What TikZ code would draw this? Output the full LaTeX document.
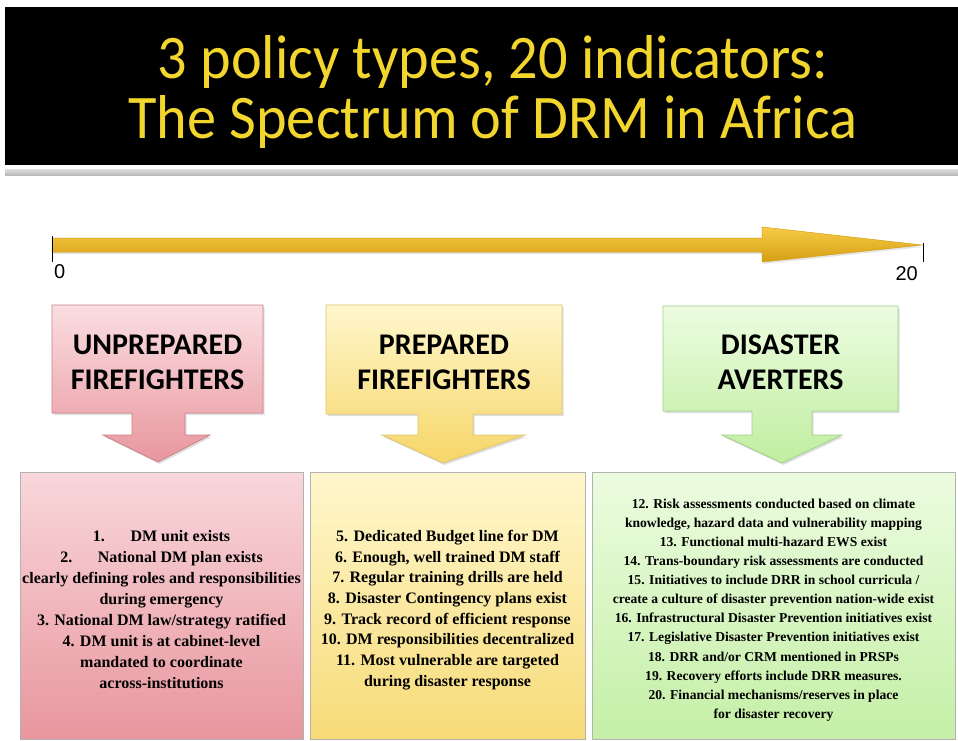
\documentclass[tikz,border=0pt]{standalone}
\usepackage{fontspec}
\setmainfont{Liberation Serif}
\newfontfamily\titlefont{Carlito}
\newfontfamily\bannerfont[FakeStretch=0.94]{Carlito}
\newfontfamily\numfont{Liberation Sans}
\usetikzlibrary{positioning, shadows}

\definecolor{titleyellow}{RGB}{242,214,46}
\definecolor{goldtop}{RGB}{246,204,70}
\definecolor{goldbot}{RGB}{214,158,20}
\definecolor{redtop}{RGB}{250,222,225}
\definecolor{redbot}{RGB}{232,150,158}
\definecolor{redline}{RGB}{200,130,135}
\definecolor{yeltop}{RGB}{255,247,205}
\definecolor{yelbot}{RGB}{246,214,104}
\definecolor{yelline}{RGB}{222,196,112}
\definecolor{grntop}{RGB}{236,252,224}
\definecolor{grnbot}{RGB}{192,238,160}
\definecolor{grnline}{RGB}{160,208,140}

\begin{document}
\begin{tikzpicture}[
            x=1pt, y=-1pt,
            banner/.style={font=\bannerfont\fontsize{62}{62}\selectfont, text=titleyellow, anchor=base, inner sep=0pt},
            callout/.style={line width=0.8pt, drop shadow={shadow xshift=1.5pt, shadow yshift=-2pt, opacity=0.25}},
            listbox/.style={line width=0.8pt, draw=gray!60},
            head/.style={font=\titlefont\bfseries\fontsize{30}{35}\selectfont, align=center, inner sep=0pt},
            indic/.style={align=center, inner sep=0pt, font=\bfseries\fontsize{16}{21}\selectfont},
            num/.style={font=\numfont\fontsize{20}{22}\selectfont, inner sep=0pt},
            tick/.style={line width=0.6pt, black}
        ]
    
            \useasboundingbox (0,0) rectangle (958,741);
            \fill[white] (0,0) rectangle (958,741);
        
            % Title band
            \fill[black] (5,7) rectangle (958,165);
            \shade[top color=gray!25, bottom color=gray!55] (5,169) rectangle (958,175);
            \node[banner] (title1) at (493,79) {3 policy types, 20 indicators:};
            \node[banner] (title2) at (493,139) {The Spectrum of DRM in Africa};
        
            % Spectrum arrow
            \draw[draw=goldbot, line width=0.5pt, top color=goldtop, bottom color=goldbot, drop shadow={shadow xshift=1pt, shadow yshift=-2pt, opacity=0.2}]
                (52,238) -- (762,238) -- (762,227) -- (922,245) -- (762,262) -- (762,252) -- (52,252) -- cycle;
            \draw[tick] (52,236) -- (52,262);
            \draw[tick] (923,243) -- (923,262);
            \node[num, anchor=base west] (zero) at (54,278) {0};
            \node[num, anchor=base east] (twenty) at (918,280) {20};
        
            % Callouts
            \draw[callout, draw=redline, top color=redtop, bottom color=redbot]
                (52,305) -- (263,305) -- (263,413) -- (185,413) -- (185,435) -- (210,435) -- (158,462) -- (103,435) -- (132,435) -- (132,413) -- (52,413) -- cycle;
            \draw[callout, draw=yelline, top color=yeltop, bottom color=yelbot]
                (326,305) -- (562,305) -- (562,414) -- (473,414) -- (473,435) -- (525,435) -- (443,463) -- (382,435) -- (418,435) -- (418,414) -- (326,414) -- cycle;
            \draw[callout, draw=grnline, top color=grntop, bottom color=grnbot]
                (663,306) -- (898,306) -- (898,411) -- (812,411) -- (812,435) -- (842,435) -- (782,463) -- (722,435) -- (752,435) -- (752,411) -- (663,411) -- cycle;
        
            \node[head] (unprep) at (157.5,362) {UNPREPARED\\FIREFIGHTERS};
            \node[head] (prep) at (444,362) {PREPARED\\FIREFIGHTERS};
            \node[head] (avert) at (780.5,362) {DISASTER\\AVERTERS};
        
            % Indicator boxes
            \draw[listbox, top color=redtop!90!redbot, bottom color=redbot] (20,472) rectangle (303,739);
            \draw[listbox, top color=yeltop, bottom color=yelbot!85!yeltop] (310,472) rectangle (585,739);
            \draw[listbox, top color=grntop, bottom color=grnbot!90!grntop] (592,472) rectangle (955,739);
        
            \node[indic] (unpreplist) at (161.5,610) {1.\hspace{1.6em}DM unit exists\\
                2.\hspace{1.6em}National DM plan exists\\
                clearly defining roles and responsibilities\\
                during emergency\\
                3. National DM law/strategy ratified\\
                4. DM unit is at cabinet-level\\
                mandated to coordinate\\
                across-institutions};
            \node[indic, font=\bfseries\fontsize{16}{20.7}\selectfont] (preplist) at (447.5,610) {5. Dedicated Budget line for DM\\
                6. Enough, well trained DM staff\\
                7. Regular training drills are held\\
                8. Disaster Contingency plans exist\\
                9. Track record of efficient response\\
                10. DM responsibilities decentralized\\
                11. Most vulnerable are targeted\\
                during disaster response};
            \node[indic, font=\bfseries\fontsize{13.6}{19.1}\selectfont] (avertlist) at (773.5,610) {12. Risk assessments conducted based on climate\\
                knowledge, hazard data and vulnerability mapping\\
                13. Functional multi-hazard EWS exist\\
                14. Trans-boundary risk assessments are conducted\\
                15. Initiatives to include DRR in school curricula /\\
                create a culture of disaster prevention nation-wide exist\\
                16. Infrastructural Disaster Prevention initiatives exist\\
                17. Legislative Disaster Prevention initiatives exist\\
                18. DRR and/or CRM mentioned in PRSPs\\
                19. Recovery efforts include DRR measures.\\
                20. Financial mechanisms/reserves in place\\
                for disaster recovery};
    
        \end{tikzpicture}
\end{document}
